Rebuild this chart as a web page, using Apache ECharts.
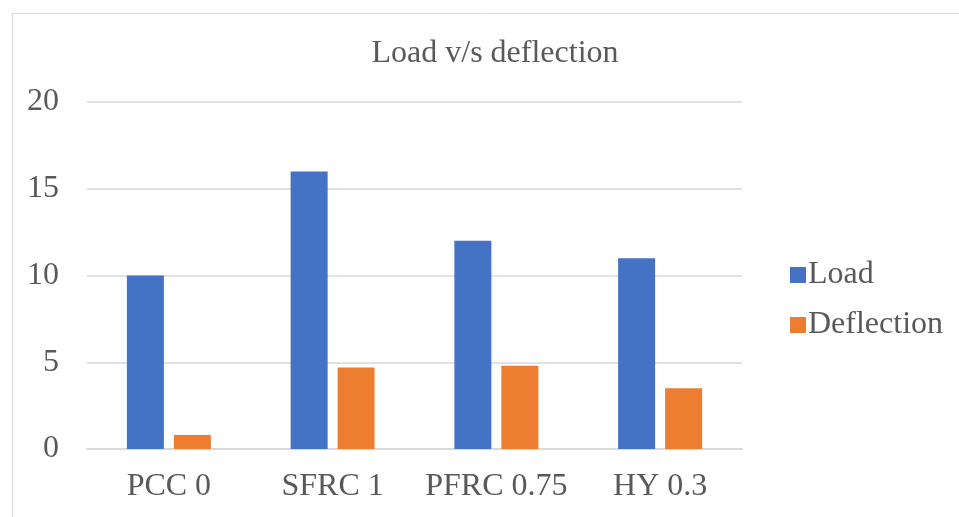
<!DOCTYPE html>
<html>
<head>
<meta charset="utf-8">
<title>Load v/s deflection</title>
<script src="https://cdn.jsdelivr.net/npm/echarts@6/dist/echarts.min.js"></script>
<style>
  html, body { margin: 0; padding: 0; background: #ffffff; }
  #chart { width: 959px; height: 517px; }
</style>
</head>
<body>
<div id="chart"></div>
<script>
// Mix designations along the x axis
const categories = ['PCC 0', 'SFRC 1', 'PFRC 0.75', 'HY 0.3'];
// Series values
const loadValues = [10, 16, 12, 11];
const deflectionValues = [0.8, 4.7, 4.8, 3.5];
// Value axis ticks
const yTicks = [0, 5, 10, 15, 20];

const textColor = '#595959';
const fontFamily = '"Liberation Serif", "Times New Roman", serif';

const chart = echarts.init(document.getElementById('chart'), null, { renderer: 'canvas' });

chart.setOption({
  backgroundColor: '#ffffff',
  animation: false,
  graphic: [{
    type: 'rect',
    left: 10,
    top: 11,
    shape: { width: 970, height: 530 },
    style: { fill: 'none', stroke: '#d9d9d9', lineWidth: 1 },
    silent: true,
    z: -1
  }],
  title: {
    text: 'Load v/s deflection',
    left: 490,
    top: 33,
    textAlign: 'center',
    textStyle: { color: textColor, fontFamily: fontFamily, fontSize: 32, fontWeight: 'normal' }
  },
  legend: {
    orient: 'vertical',
    left: 785,
    top: 254,
    itemWidth: 16,
    itemHeight: 16,
    itemGap: 18,
    icon: 'rect',
    textStyle: { color: textColor, fontFamily: fontFamily, fontSize: 32, padding: [0, 0, 0, -3] },
    data: ['Load', 'Deflection']
  },
  grid: { left: 87, right: 217, top: 102, bottom: 68, containLabel: false },
  xAxis: {
    type: 'category',
    data: categories,
    axisLine: { show: true, lineStyle: { color: '#d9d9d9', width: 2 } },
    axisTick: { show: false },
    axisLabel: { color: textColor, fontFamily: fontFamily, fontSize: 32, margin: 22, interval: 0 }
  },
  yAxis: {
    type: 'value',
    min: yTicks[0],
    max: yTicks[yTicks.length - 1],
    interval: yTicks[1] - yTicks[0],
    axisLine: { show: false },
    axisTick: { show: false },
    splitLine: { lineStyle: { color: '#d9d9d9', width: 1.5 } },
    axisLabel: { color: textColor, fontFamily: fontFamily, fontSize: 32, margin: 28 }
  },
  series: [
    {
      name: 'Load',
      type: 'bar',
      data: loadValues,
      barWidth: 37,
      barGap: '27%',
      itemStyle: { color: '#4472c4' }
    },
    {
      name: 'Deflection',
      type: 'bar',
      data: deflectionValues,
      barWidth: 37,
      itemStyle: { color: '#ed7d31' }
    }
  ]
});
</script>
</body>
</html>
